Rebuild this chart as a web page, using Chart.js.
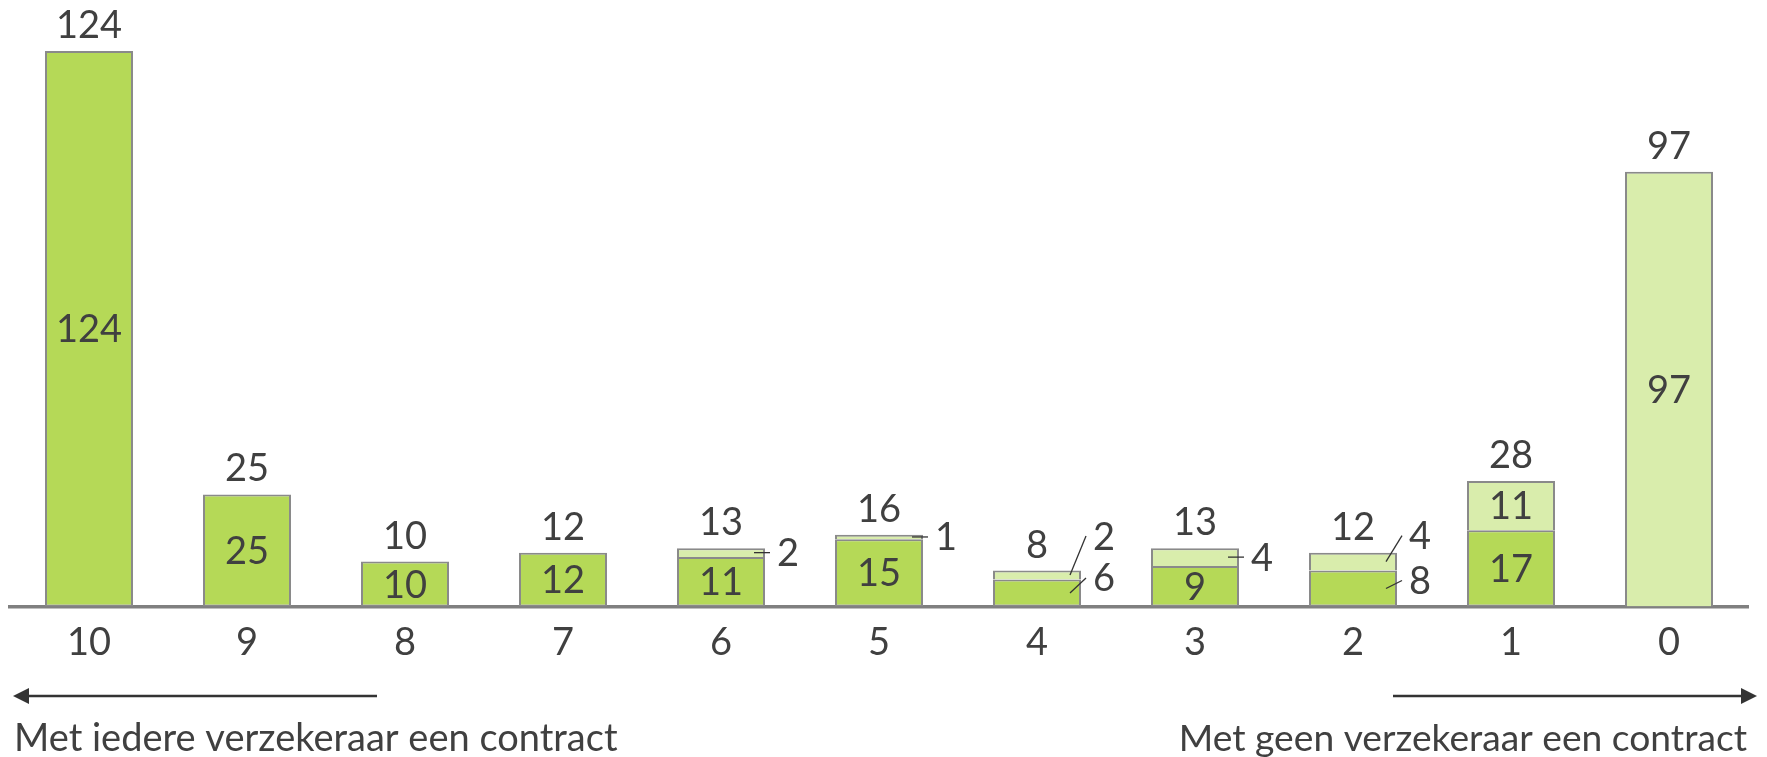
<!DOCTYPE html>
<html>
<head>
<meta charset="utf-8">
<script src="https://cdn.jsdelivr.net/npm/chart.js@4.4.0/dist/chart.umd.min.js"></script>
<style>
html, body { margin: 0; padding: 0; background: #fff; }
#wrap { width: 1767px; height: 757px; position: relative; }
</style>
</head>
<body>
<div id="wrap"><canvas id="chartContracts"></canvas></div>
<script>
var categories  = ['10', '9', '8', '7', '6', '5', '4', '3', '2', '1', '0'];
var darkValues  = [124, 25, 10, 12, 11, 15, 6, 9, 8, 17, 0];
var lightValues = [0, 0, 0, 0, 2, 1, 2, 4, 4, 11, 97];
var leftCaption  = 'Met iedere verzekeraar een contract';
var rightCaption = 'Met geen verzekeraar een contract';

// segments too small for their label: [bar index, dataset, vertical shift of the label]
var outsideLabels = [
    [4, 1, 0], [5, 1, 0], [6, 1, -39], [6, 0, -15], [7, 1, 0], [8, 1, -26], [8, 0, -8]
];

var textColor = '#404040';
var font = '38px Lato';

function isOutside(i, d) {
    for (var k = 0; k < outsideLabels.length; k++) {
        if (outsideLabels[k][0] === i && outsideLabels[k][1] === d) return true;
    }
    return false;
}

function drawArrow(ctx, from, to, y) {
    var dir = to > from ? 1 : -1;
    ctx.beginPath();
    ctx.moveTo(from, y);
    ctx.lineTo(to - dir * 12, y);
    ctx.stroke();
    ctx.beginPath();
    ctx.moveTo(to, y);
    ctx.lineTo(to - dir * 16, y - 8);
    ctx.lineTo(to - dir * 16, y + 8);
    ctx.closePath();
    ctx.fill();
}

var labelPlugin = {
    id: 'barLabels',
    afterDatasetsDraw: function(chart) {
        var ctx = chart.ctx;
        var metas = [chart.getDatasetMeta(0).data, chart.getDatasetMeta(1).data];
        var vals = [darkValues, lightValues];
        ctx.save();
        ctx.font = font;
        ctx.fillStyle = textColor;
        ctx.textAlign = 'center';
        ctx.textBaseline = 'alphabetic';

        // totals above the bars
        for (var i = 0; i < categories.length; i++) {
            var topBar = lightValues[i] ? metas[1][i] : metas[0][i];
            ctx.fillText(darkValues[i] + lightValues[i], topBar.x, topBar.y - 13);
        }

        // values inside the segments
        for (var d = 0; d < 2; d++) {
            metas[d].forEach(function(bar, i) {
                if (!vals[d][i] || isOutside(i, d)) return;
                ctx.fillText(vals[d][i], bar.x, (bar.y + bar.base) / 2 + 13.5);
            });
        }

        // small segments: label to the right with a leader line
        ctx.strokeStyle = '#333';
        ctx.lineWidth = 1.3;
        outsideLabels.forEach(function(o) {
            var bar = metas[o[1]][o[0]];
            var right = bar.x + bar.width / 2;
            var mid = (bar.y + bar.base) / 2;
            ctx.beginPath();
            ctx.moveTo(right - 11, mid);
            ctx.lineTo(right + 5, mid + o[2]);
            ctx.stroke();
            ctx.fillText(vals[o[1]][o[0]], right + 23, mid + o[2] + 13.5);
        });
        ctx.restore();
    },
    afterDraw: function(chart) {
        var ctx = chart.ctx;
        var area = chart.chartArea;
        var h = chart.height;
        ctx.save();
        ctx.fillStyle = '#333';
        ctx.strokeStyle = '#333';
        ctx.lineWidth = 2.5;
        drawArrow(ctx, area.left + 367, area.left + 3, h - 61);
        drawArrow(ctx, area.right - 355, area.right + 9, h - 61);

        ctx.fillStyle = textColor;
        ctx.textBaseline = 'alphabetic';
        ctx.font = font;
        ctx.textAlign = 'left';
        ctx.fillText(leftCaption, area.left + 4, h - 6);
        ctx.font = '37.2px Lato';
        ctx.textAlign = 'right';
        ctx.fillText(rightCaption, area.right - 1, h - 6);
        ctx.restore();
    }
};

function nullZero(arr) {
    return arr.map(function(v) { return v || null; });
}

var ctx = document.getElementById('chartContracts');
var chart = new Chart(ctx, {
    type: 'bar',
    data: {
        labels: categories,
        datasets: [{
            data: nullZero(darkValues),
            backgroundColor: '#b5d957',
            borderColor: '#8a8a8a',
            borderWidth: 2,
            borderSkipped: false
        }, {
            data: nullZero(lightValues),
            backgroundColor: '#d9edac',
            borderColor: '#8a8a8a',
            borderWidth: { top: 2, left: 2, right: 2, bottom: 0 },
            borderSkipped: false
        }]
    },
    options: {
        responsive: true,
        maintainAspectRatio: false,
        animation: false,
        datasets: {
            bar: { barPercentage: 0.557, categoryPercentage: 1 }
        },
        layout: {
            padding: { left: 10, right: 19, top: 24, bottom: 77 }
        },
        plugins: {
            legend: { display: false },
            tooltip: { enabled: false }
        },
        scales: {
            x: {
                stacked: true,
                grid: { display: false, drawTicks: false },
                border: { display: true, color: '#808080', width: 3.5 },
                ticks: { color: textColor, font: { family: 'Lato', size: 38 }, padding: 14 }
            },
            y: {
                stacked: true,
                display: false,
                min: 0,
                max: 130
            }
        }
    },
    plugins: [labelPlugin]
});
</script>
</body>
</html>
